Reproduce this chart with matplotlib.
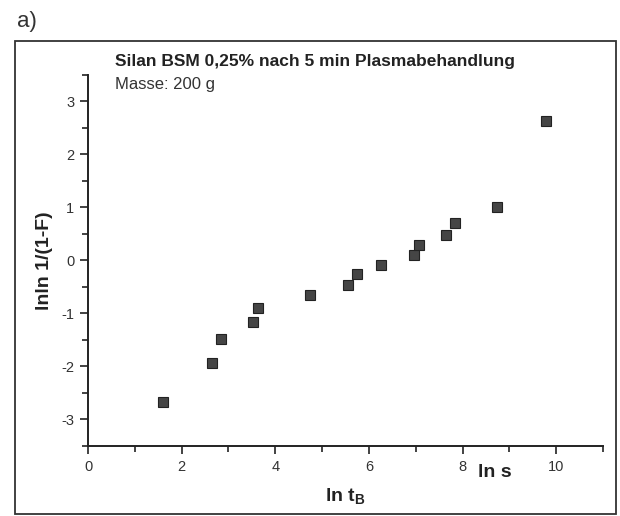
import matplotlib
matplotlib.use("Agg")
import matplotlib.pyplot as plt
from matplotlib.patches import Rectangle
from matplotlib.ticker import MultipleLocator

# Weibull plot data
ln_t = [1.61, 2.64, 2.83, 3.53, 3.64, 4.74, 5.56, 5.74, 6.26, 6.97, 7.08, 7.65, 7.84, 8.73, 9.79]
lnln_f = [-2.67, -1.94, -1.49, -1.17, -0.90, -0.66, -0.46, -0.26, -0.08, 0.11, 0.29, 0.48, 0.71, 1.01, 2.63]

x_ticks = [0, 2, 4, 6, 8, 10]
y_ticks = [-3, -2, -1, 0, 1, 2, 3]

plt.rcParams["font.family"] = ["Liberation Sans", "DejaVu Sans"]
plt.rcParams["axes.unicode_minus"] = False

fig = plt.figure(figsize=(6.2, 5.16), dpi=100)
ax = fig.add_axes([0.142, 0.1357, 0.8306, 0.719])

ax.plot(ln_t, lnln_f, linestyle="none", marker="s", markersize=6.5,
        markerfacecolor="#454545", markeredgecolor="#222222", markeredgewidth=0.8)

ax.set_xlim(0, 11)
ax.set_ylim(-3.5, 3.5)
ax.set_xticks(x_ticks)
ax.set_yticks(y_ticks)
ax.xaxis.set_minor_locator(MultipleLocator(1))
ax.yaxis.set_minor_locator(MultipleLocator(0.5))

for side in ["top", "right"]:
    ax.spines[side].set_visible(False)
for side in ["left", "bottom"]:
    ax.spines[side].set_linewidth(1.4)
    ax.spines[side].set_color("#222222")

ax.tick_params(which="major", direction="out", length=6, width=1.2, color="#222222",
               labelsize=10.5, labelcolor="#333333", pad=4)
ax.tick_params(which="minor", direction="out", length=4, width=1.2, color="#222222")

ax.set_xlabel("ln t$_\\mathregular{B}$", fontsize=14, fontweight="bold", color="#222222", labelpad=9)
ax.set_ylabel("lnln 1/(1-F)", fontsize=14, fontweight="bold", color="#222222", labelpad=6)

ax.text(0.053, 1.015, "Silan BSM 0,25% nach 5 min Plasmabehandlung", transform=ax.transAxes,
        fontsize=12.5, fontweight="bold", color="#222222", va="bottom")
ax.text(0.053, 0.953, "Masse: 200 g", transform=ax.transAxes,
        fontsize=12, color="#333333", va="bottom")
ax.text(0.757, -0.072, "ln s", transform=ax.transAxes,
        fontsize=14, fontweight="bold", color="#222222", va="center")

# outer frame and panel label
fig.patches.append(Rectangle((0.024, 0.004), 0.9695, 0.9165, transform=fig.transFigure,
                             fill=False, edgecolor="#333333", linewidth=1.3))
fig.text(0.027, 0.958, "a)", fontsize=16, color="#333333", va="center")

fig.savefig("out.png", dpi=100)
plt.close(fig)
